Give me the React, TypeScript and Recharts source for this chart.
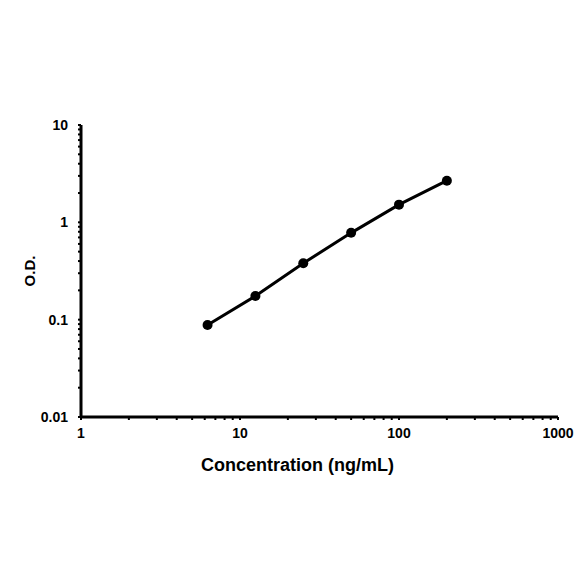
import { LineChart, Line, XAxis, YAxis } from "recharts";

const concentration = [6.25, 12.5, 25, 50, 100, 200];
const od = [0.088, 0.175, 0.38, 0.78, 1.52, 2.68];

const xTicks = [1, 2, 3, 4, 5, 6, 7, 8, 9, 10, 20, 30, 40, 50, 60, 70, 80, 90, 100, 200, 300, 400, 500, 600, 700, 800, 900, 1000];
const yTicks = [0.01, 0.02, 0.03, 0.04, 0.05, 0.06, 0.07, 0.08, 0.09, 0.1, 0.2, 0.3, 0.4, 0.5, 0.6, 0.7, 0.8, 0.9, 1, 2, 3, 4, 5, 6, 7, 8, 9, 10];
const xMajor = [1, 10, 100, 1000];
const yMajor = [0.01, 0.1, 1, 10];

const data = concentration.map((c, i) => ({ c, od: od[i] }));

const FONT = "'Liberation Sans', Arial, sans-serif";
const tickStyle = { fill: "#000", fontSize: 14, fontWeight: 700, fontFamily: FONT };

const fmt = (majors: number[]) => (v: number) =>
  majors.some((m) => Math.abs(m - v) < 1e-9) ? String(v) : "";

export default function App() {
  return (
    <div style={{ position: "fixed", left: 0, top: 0, width: 584, height: 584, background: "#fff" }}>
      <LineChart width={584} height={584} data={data} margin={{ top: 125, right: 26, left: 0, bottom: 113 }}>
        <XAxis
          dataKey="c"
          type="number"
          scale="log"
          domain={[1, 1000]}
          ticks={xTicks}
          interval={0}
          tickFormatter={fmt(xMajor)}
          tick={tickStyle}
          axisLine={{ stroke: "#000", strokeWidth: 3 }}
          tickLine={{ stroke: "#000", strokeWidth: 2 }}
          tickSize={3}
          tickMargin={8}
          height={54}
          allowDataOverflow
          label={{
            value: "Concentration (ng/mL)",
            position: "insideBottom",
            offset: 0,
            dx: -22,
            style: { fill: "#000", fontSize: 18, fontWeight: 700, fontFamily: FONT },
          }}
        />
        <YAxis
          dataKey="od"
          type="number"
          scale="log"
          domain={[0.01, 10]}
          ticks={yTicks}
          interval={0}
          tickFormatter={fmt(yMajor)}
          tick={tickStyle}
          axisLine={{ stroke: "#000", strokeWidth: 3 }}
          tickLine={{ stroke: "#000", strokeWidth: 2 }}
          tickSize={3}
          tickMargin={10}
          width={81}
          allowDataOverflow
          label={{
            value: "O.D.",
            angle: -90,
            position: "insideLeft",
            offset: 30,
            style: { fill: "#000", fontSize: 15, fontWeight: 700, fontFamily: FONT, textAnchor: "middle" },
          }}
        />
        <Line
          dataKey="od"
          stroke="#000"
          strokeWidth={3}
          dot={{ r: 5, fill: "#000", stroke: "#000", strokeWidth: 0 }}
          isAnimationActive={false}
        />
      </LineChart>
    </div>
  );
}
